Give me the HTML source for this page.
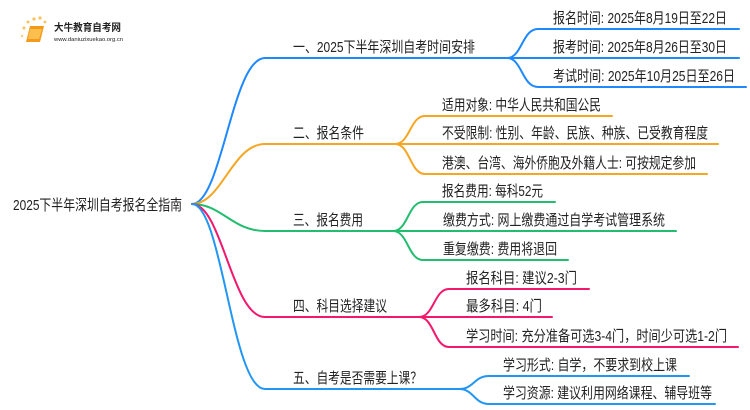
<!DOCTYPE html>
<html><head><meta charset="utf-8"><style>
html,body{margin:0;padding:0;background:#fff;width:750px;height:410px;overflow:hidden}
svg text{font-family:"Liberation Sans","Noto Sans CJK SC",sans-serif;fill:#222}
</style></head><body>
<svg width="750" height="410" viewBox="0 0 750 410" xmlns="http://www.w3.org/2000/svg">
<g>
<circle cx="24" cy="28" r="1.5" fill="#f7c25a"/><circle cx="28" cy="22" r="1.5" fill="#f7c25a"/><circle cx="34" cy="19" r="1.6" fill="#f7c25a"/><circle cx="40" cy="18" r="1.6" fill="#f7c25a"/><circle cx="45" cy="22" r="1.4" fill="#f7c25a"/><circle cx="22" cy="36" r="1.3" fill="#f7d58a"/>
<path d="M30 26 L44 26 L40 42 L26 42 Z" fill="#f39a1a"/><path d="M30 29 L42 29 L39 39 L28 39 Z" fill="#fbbf50"/>
<text x="54" y="31" font-size="10" font-weight="bold" fill="#333" textLength="67" lengthAdjust="spacingAndGlyphs">大牛教育自考网</text>
<text x="54" y="41" font-size="5.5" fill="#777" textLength="69" lengthAdjust="spacingAndGlyphs">www.daniuzixuekao.org.cn</text>
</g>
<g fill="none" stroke-width="2" stroke-linecap="round">
<path d="M192 204 C222 204 232 58 265 58 L507 58" stroke="#1e88ff"/>
<path d="M192 204 C222 204 232 144 265 144 L395 144" stroke="#f5a623"/>
<path d="M192 204 C222 204 232 231 265 231 L393 231" stroke="#22bd6e"/>
<path d="M192 204 C222 204 232 317 265 317 L419 317" stroke="#f2186c"/>
<path d="M192 204 C222 204 232 389 265 389 L459 389" stroke="#2196f3"/>
<path d="M507 58 C522 58 522 29 538 29 L739 29" stroke="#1e88ff"/>
<path d="M507 58 L739 58" stroke="#1e88ff"/>
<path d="M507 58 C522 58 522 87 538 87 L746 87" stroke="#1e88ff"/>
<path d="M395 144 C410 144 410 116 425 116 L612 116" stroke="#f5a623"/>
<path d="M395 144 L718 144" stroke="#f5a623"/>
<path d="M395 144 C410 144 410 174 425 174 L707 174" stroke="#f5a623"/>
<path d="M393 231 C408 231 408 202 423 202 L555 202" stroke="#22bd6e"/>
<path d="M393 231 L676 231" stroke="#22bd6e"/>
<path d="M393 231 C408 231 408 260 423 260 L568 260" stroke="#22bd6e"/>
<path d="M419 317 C434 317 434 289 449 289 L589 289" stroke="#f2186c"/>
<path d="M419 317 L552 317" stroke="#f2186c"/>
<path d="M419 317 C434 317 434 347 449 347 L738 347" stroke="#f2186c"/>
<path d="M459 389 C474 389 474 376 489 376 L689 376" stroke="#2196f3"/>
<path d="M459 389 C474 389 474 404 489 404 L715 404" stroke="#2196f3"/>
</g>
<g font-size="15">
<text x="13" y="210" textLength="169" lengthAdjust="spacingAndGlyphs">2025下半年深圳自考报名全指南</text>
<text x="293" y="52" textLength="182" lengthAdjust="spacingAndGlyphs">一、2025下半年深圳自考时间安排</text>
<text x="293" y="138" textLength="71" lengthAdjust="spacingAndGlyphs">二、报名条件</text>
<text x="293" y="225" textLength="70" lengthAdjust="spacingAndGlyphs">三、报名费用</text>
<text x="293" y="311" textLength="94" lengthAdjust="spacingAndGlyphs">四、科目选择建议</text>
<text x="293" y="383" textLength="129" lengthAdjust="spacingAndGlyphs">五、自考是否需要上课？</text>
<text x="553" y="23" textLength="174" lengthAdjust="spacingAndGlyphs">报名时间: 2025年8月19日至22日</text>
<text x="553" y="52" textLength="174" lengthAdjust="spacingAndGlyphs">报考时间: 2025年8月26日至30日</text>
<text x="553" y="81" textLength="182" lengthAdjust="spacingAndGlyphs">考试时间: 2025年10月25日至26日</text>
<text x="442" y="110" textLength="159" lengthAdjust="spacingAndGlyphs">适用对象: 中华人民共和国公民</text>
<text x="442" y="138" textLength="266" lengthAdjust="spacingAndGlyphs">不受限制: 性别、年龄、民族、种族、已受教育程度</text>
<text x="442" y="168" textLength="254" lengthAdjust="spacingAndGlyphs">港澳、台湾、海外侨胞及外籍人士: 可按规定参加</text>
<text x="442" y="196" textLength="101" lengthAdjust="spacingAndGlyphs">报名费用: 每科52元</text>
<text x="443" y="225" textLength="222" lengthAdjust="spacingAndGlyphs">缴费方式: 网上缴费通过自学考试管理系统</text>
<text x="443" y="254" textLength="114" lengthAdjust="spacingAndGlyphs">重复缴费: 费用将退回</text>
<text x="466" y="283" textLength="111" lengthAdjust="spacingAndGlyphs">报名科目: 建议2-3门</text>
<text x="466" y="311" textLength="76" lengthAdjust="spacingAndGlyphs">最多科目: 4门</text>
<text x="466" y="341" textLength="261" lengthAdjust="spacingAndGlyphs">学习时间: 充分准备可选3-4门，时间少可选1-2门</text>
<text x="503" y="370" textLength="174" lengthAdjust="spacingAndGlyphs">学习形式: 自学，不要求到校上课</text>
<text x="503" y="398" textLength="209" lengthAdjust="spacingAndGlyphs">学习资源: 建议利用网络课程、辅导班等</text>
</g>
</svg>
</body></html>
